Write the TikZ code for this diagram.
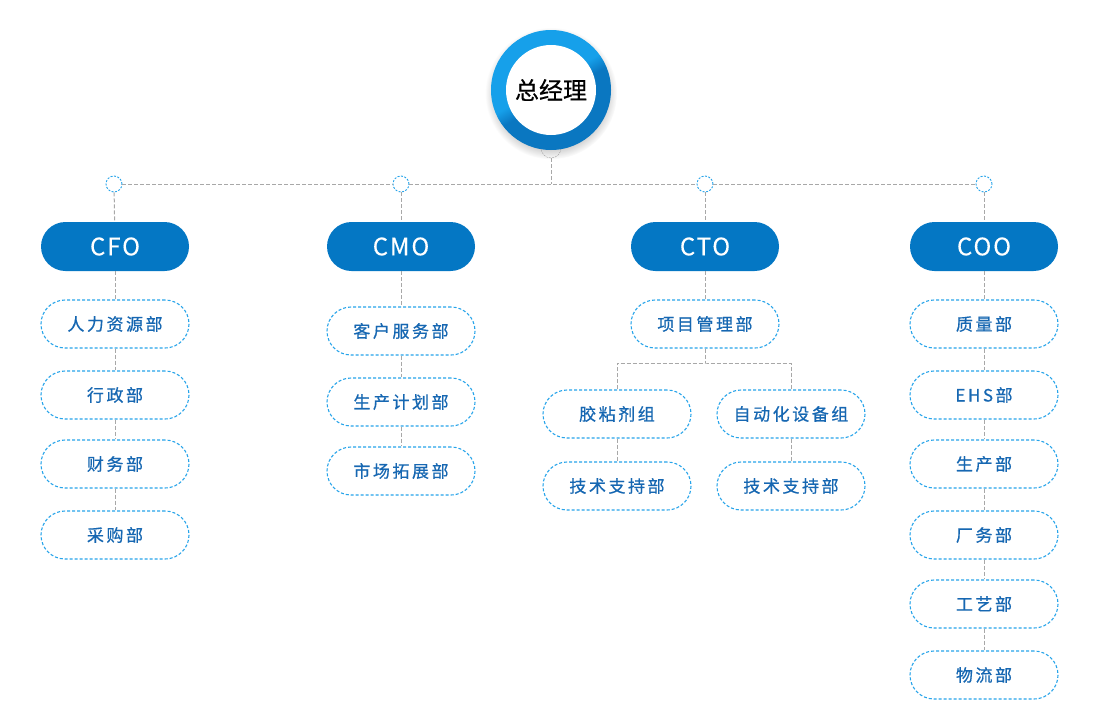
\documentclass[tikz,border=0pt]{standalone}
\usepackage{fontspec}
\setmainfont{Noto Sans CJK SC}
\usetikzlibrary{shadows}

\definecolor{ringlight}{HTML}{16A0EA}
\definecolor{ringdark}{HTML}{0A77C1}
\definecolor{boxblue}{HTML}{0477C4}
\definecolor{dashblue}{HTML}{27A4EA}
\definecolor{textblue}{HTML}{1667B2}
\definecolor{linegray}{HTML}{A8A8A8}

\pgfdeclarehorizontalshading{ringshade}{100bp}{color(0bp)=(ringlight); color(47bp)=(ringlight); color(53bp)=(ringdark); color(100bp)=(ringdark)}

\tikzset{
  chief/.style={fill=boxblue, rounded corners=24.5pt, minimum width=148pt, minimum height=49pt,
    text=white, font=\fontsize{24}{26}\selectfont\addfontfeatures{LetterSpace=8,FakeBold=.3}},
  dept/.style={draw=dashblue, dash pattern=on 3pt off 2pt, line width=1.1pt, fill=white,
    rounded corners=24pt, minimum width=148pt, minimum height=48pt,
    text=textblue, font=\fontsize{17}{19}\selectfont\addfontfeatures{LetterSpace=15,FakeBold=.6}},
  joint/.style={circle, draw=dashblue, dash pattern=on 2pt off 1.5pt, line width=.9pt,
    fill=white, minimum size=16pt, inner sep=0pt},
  link/.style={draw=linegray, dash pattern=on 4pt off 2pt, line width=1pt}
}

\begin{document}
\begin{tikzpicture}[x=1pt, y=-1pt]
        \useasboundingbox (0,0) rectangle (1111,720);

        % top
        \node[circle, draw=linegray, dash pattern=on 2pt off 1pt, minimum size=20pt] (knob) at (551,148) {};
        \node[circle, minimum size=120pt, shading=ringshade, shading angle=-60,
              circular drop shadow={shadow xshift=0pt, shadow yshift=-3pt, opacity=.35}] (ring) at (551,90) {};
        \node[circle, fill=white, minimum size=90pt,
              font=\fontsize{24}{26}\selectfont\addfontfeatures{FakeBold=.6}] (ceo) at (ring) {总经理};
        \coordinate (hub) at (551,184);

        \begin{scope}[every node/.style={joint}]
          \node (j1) at (114,184) {};
          \node (j2) at (401,184) {};
          \node (j3) at (705,184) {};
          \node (j4) at (984,184) {};
        \end{scope}

        \begin{scope}[every node/.style={chief}]
          \node (cfo) at (115,246.5) {CFO};
          \node (cmo) at (401,246.5) {CMO};
          \node (cto) at (705,246.5) {CTO};
          \node (coo) at (984,246.5) {COO};
        \end{scope}

        \begin{scope}[every node/.style={dept}]
          % CFO
          \node (hr)   at (115,324) {人力资源部};
          \node (adm)  at (115,395) {行政部};
          \node (fin)  at (115,464) {财务部};
          \node (buy)  at (115,535) {采购部};
          % CMO
          \node (cs)   at (401,331) {客户服务部};
          \node (plan) at (401,402) {生产计划部};
          \node (mkt)  at (401,471) {市场拓展部};
          % CTO
          \node (pm)   at (705,324) {项目管理部};
          \node (glue) at (617,414) {胶粘剂组};
          \node (auto) at (791,414) {自动化设备组};
          \node (tsA)  at (617,486) {技术支持部};
          \node (tsB)  at (791,486) {技术支持部};
          % COO
          \node (qa)   at (984,324) {质量部};
          \node (ehs)  at (984,395) {EHS部};
          \node (prod) at (984,464) {生产部};
          \node (fac)  at (984,535) {厂务部};
          \node (proc) at (984,604) {工艺部};
          \node (log)  at (984,675) {物流部};
        \end{scope}
        \coordinate (fork) at (705,363);

        \begin{scope}[every edge/.style={link}]
          \path (knob) edge (hub);
          \path (j1) edge (j2) (j2) edge (j3) (j3) edge (j4);
          \path (j1) edge (cfo) (j2) edge (cmo) (j3) edge (cto) (j4) edge (coo);
          \path (cfo) edge (hr) (hr) edge (adm) (adm) edge (fin) (fin) edge (buy);
          \path (cmo) edge (cs) (cs) edge (plan) (plan) edge (mkt);
          \path (cto) edge (pm) (pm) edge (fork);
          \path (glue) edge (tsA) (auto) edge (tsB);
          \path (coo) edge (qa);
          \path (qa) edge (ehs) (ehs) edge (prod) (prod) edge (fac) (fac) edge (proc) (proc) edge (log);
        \end{scope}
        \path[link] (glue) |- (fork) -| (auto);

\end{tikzpicture}
\end{document}
